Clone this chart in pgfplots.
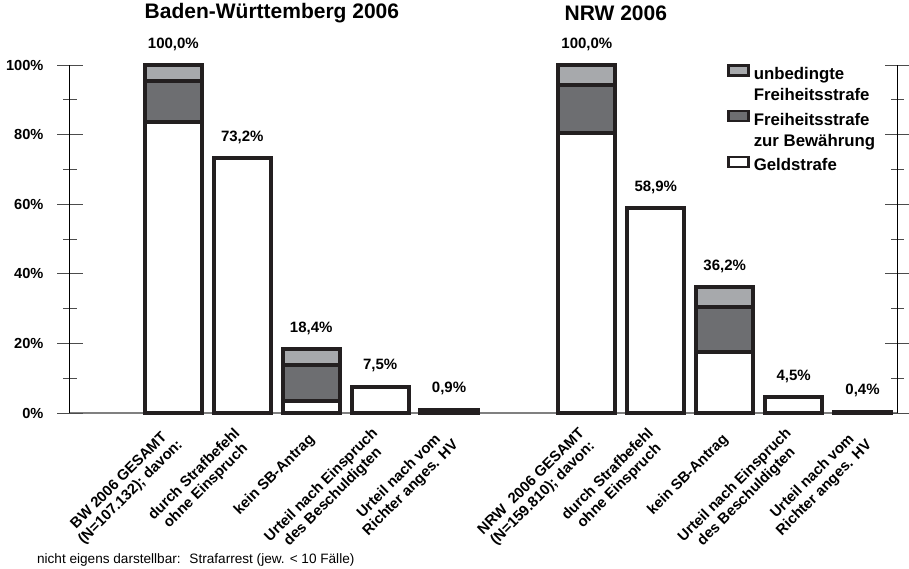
\documentclass[border=0pt]{standalone}
\usepackage{fontspec}
\setmainfont{Liberation Sans}
\usepackage{pgfplots}
\usepackage{pgfplotstable}
\pgfplotsset{compat=1.18}
\definecolor{barline}{HTML}{231F20}
\definecolor{darkfill}{HTML}{6D6E71}
\definecolor{lightfill}{HTML}{A7A9AC}
\pgfplotstableread{
x G FzB uFS T label
0 83.6 11.8 4.6 100 100,0
1 73.2 0 0 73.2 73,2
2 3.4 10.5 4.5 18.4 18,4
3 7.5 0 0 7.5 7,5
4 0.9 0 0 0.9 0,9
6 80.5 13.7 5.8 100 100,0
7 58.9 0 0 58.9 58,9
8 17.4 13.1 5.7 36.2 36,2
9 4.5 0 0 4.5 4,5
10 0.4 0 0 0.4 0,4
}\datatable
\pgfplotsset{frame/.style={scale only axis, width=413.5pt, height=174pt,
  xmin=-1.5, xmax=10.5, ymin=0, ymax=100, clip=false}}
\begin{document}
\begin{tikzpicture}
\begin{axis}[
  frame,
  ybar stacked, bar width=0.83,
  separate axis lines,
  x axis line style={draw=none},
  y axis line style={black, line width=0.5pt},
  xtick={0,1,2,3,4,6,7,8,9,10},
  xticklabels={{BW 2006 GESAMT\\(N=107.132); davon:},{durch Strafbefehl\\ohne Einspruch},{kein SB-Antrag},{Urteil nach Einspruch\\des Beschuldigten},{Urteil nach vom\\Richter anges. HV},{NRW \ 2006 GESAMT\\(N=159.810); davon:},{durch Strafbefehl\\ohne Einspruch},{kein SB-Antrag},{Urteil nach Einspruch\\des Beschuldigten},{Urteil nach vom\\Richter anges. HV}},
  xticklabel style={xshift=1.5pt, yshift=-5pt, rotate=45, anchor=east, align=center, font=\bfseries\fontsize{7.4}{8.2}\selectfont, inner sep=1pt},
  xtick style={draw=none},
  ytick={0,20,40,60,80,100},
  minor y tick num=1,
  tick align=center,
  major tick length=12.5pt,
  minor tick length=6.5pt,
  ytick style={gray!60!black, line width=0.5pt},
  minor y tick style={gray!60!black, line width=0.5pt},
  yticklabel pos=left,
  yticklabel={\pgfmathprintnumber{\tick}\%},
  yticklabel style={font=\bfseries\fontsize{7.3}{8}\selectfont, xshift=-3.5pt},
  /pgf/number format/assume math mode=true,
  extra y ticks={0}, extra y tick labels={},
  extra y tick style={grid=major, major grid style={gray, line width=0.8pt}},
  every axis plot/.append style={draw=barline, line width=2pt},
  legend style={draw=none, fill=none, at={(axis cs:8.03,100.4)}, anchor=north west,
    font=\bfseries\fontsize{8.4}{10}\selectfont, row sep=2.7pt, column sep=2pt, inner sep=0pt,
    nodes={text height=6.3pt, text depth=1.8pt, inner sep=0pt},
    cells={anchor=west}},
  legend image code/.code={\draw[#1, draw=barline, line width=1.3pt] (0pt,-0.3pt) rectangle (10pt,4.7pt);},
]
\addlegendimage{fill=lightfill}
\addlegendentry{unbedingte}
\addlegendimage{empty legend}
\addlegendentry{Freiheitsstrafe}
\addlegendimage{fill=darkfill}
\addlegendentry{Freiheitsstrafe}
\addlegendimage{empty legend}
\addlegendentry{zur Bewährung}
\addlegendimage{fill=white}
\addlegendentry{Geldstrafe}
\addplot[fill=white, forget plot] table[x=x, y=G] {\datatable};
\addplot[fill=darkfill, forget plot] table[x=x, y=FzB] {\datatable};
\addplot[fill=lightfill, forget plot] table[x=x, y=uFS] {\datatable};
\node[font=\bfseries\fontsize{10.5}{12}\selectfont] at (axis cs:1.43,114.9) {Baden-Württemberg 2006};
\node[font=\bfseries\fontsize{10.5}{12}\selectfont] at (axis cs:6.42,114.9) {NRW 2006};
\end{axis}
\begin{axis}[frame, hide axis]
\addplot[draw=none, mark=none, nodes near coords={\pgfplotspointmeta\%},
  point meta=explicit symbolic,
  every node near coord/.append style={anchor=center, yshift=10.5pt, black, inner sep=0pt,
    font=\bfseries\fontsize{7.5}{8}\selectfont}]
  table[x=x, y=T, meta=label] {\datatable};
\end{axis}
\node[anchor=west, font=\fontsize{6.8}{8}\selectfont] at ([xshift=-20pt,yshift=-73.5pt]current axis.south west) {nicht eigens darstellbar: \ Strafarrest (jew. < 10 Fälle)};
\pgfresetboundingbox
\path[use as bounding box] ([xshift=-35pt,yshift=-77.5pt]current axis.south west) rectangle ++(454.5pt,284pt);
\end{tikzpicture}
\end{document}
